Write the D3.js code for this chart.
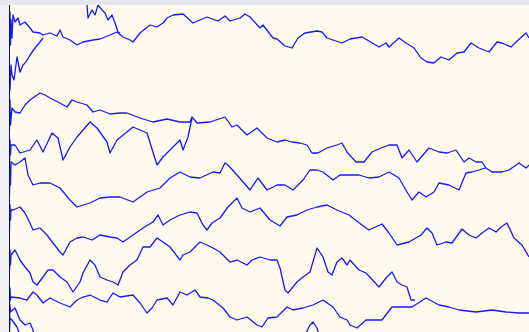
<!DOCTYPE html>
<html>
<head>
<meta charset="utf-8">
<script src="https://cdn.jsdelivr.net/npm/d3@7"></script>
<style>
  html, body { margin: 0; padding: 0; background: #f2f2f6; }
  svg { display: block; }
</style>
</head>
<body>
<svg id="chart" width="529" height="332"></svg>
<script>
// --- Données : chaque série = [pas, valeur] ---
const walkA = [[0,165],[0.5,140],[1,158],[1.5,125],[2,150],[3,132],[4,155],[6,148],[9,152],[11,145],[16,148],[21,142],[24,138],[31,137],[34,135],[41,137],[48,134],[51,140],[54,133],[61,130],[68,125],[74,128],[84,130],[91,131],[101,135],[108,138],[114,133],[121,130],[124,128],[131,137],[141,145],[148,143],[154,147],[158,152],[164,155],[174,156],[184,147],[191,150],[198,153],[209,149],[216,154],[221,149],[231,152],[236,156],[241,153],[251,142],[254,145],[264,132],[268,131],[276,124],[283,122],[289,132],[296,137],[308,139],[313,138],[318,132],[324,130],[333,127],[341,131],[353,133],[360,129],[370,123],[377,127],[380,123],[390,132],[397,127],[405,122],[412,112],[418,108],[425,107],[432,113],[440,110],[448,117],[455,118],[462,127],[470,122],[480,118],[488,128],[493,127],[502,123],[507,128],[517,137],[520,132]];
const walkB = [[75,180],[77,175],[78,165],[79,152],[83,160],[86,155],[89,165],[93,160],[96,157],[99,150],[103,155],[106,147],[109,138],[111,137]];
const walkC = [[0,60],[0.5,100],[1,80],[2,105],[3,95],[5,90],[8,113],[11,98],[14,105],[17,108],[21,115],[26,122],[31,128],[34,132]];
const walkD = [[0,85],[0.5,40],[1,70],[1.5,45],[3,62],[6,58],[11,57],[16,65],[21,70],[31,77],[36,75],[41,72],[49,68],[58,63],[63,70],[68,68],[78,65],[84,58],[91,60],[101,56],[111,57],[118,57],[131,52],[144,48],[158,51],[171,48],[181,48],[183,53],[188,47],[201,48],[216,53],[223,43],[228,45],[238,35],[248,42],[258,32],[268,28],[276,30],[283,28],[291,27],[298,25],[303,17],[309,17],[318,22],[328,25],[333,27],[338,18],[347,8],[355,8],[363,18],[372,22],[380,25],[388,25],[393,12],[400,20],[408,8],[420,22],[430,18],[438,17],[447,20],[455,8],[460,12],[467,8],[473,8],[477,2],[483,-2],[493,-2],[500,0],[510,7],[517,2],[520,5]];
const walkE = [[0,45],[0.5,0],[1,30],[1.5,15],[2,25],[6,25],[11,17],[21,20],[28,30],[34,18],[43,37],[49,32],[54,10],[61,23],[68,33],[81,48],[88,42],[98,28],[101,17],[108,30],[118,38],[124,43],[131,40],[138,37],[148,5],[154,13],[161,20],[171,30],[174,20],[179,33],[183,52]];
const walkF = [[0,15],[0.5,-25],[1,5],[1.5,-15],[2,8],[6,5],[11,8],[16,12],[19,-5],[24,-15],[31,-13],[41,-13],[51,-18],[61,-30],[68,-37],[81,-33],[91,-28],[101,-27],[111,-27],[124,-32],[138,-22],[151,-18],[161,-8],[171,-2],[181,-7],[191,-8],[204,-2],[211,-3],[216,7],[219,5],[228,-5],[241,-20],[249,-8],[258,-20],[268,-15],[276,-15],[284,-20],[294,-10],[301,0],[308,0],[314,-2],[324,-10],[331,-5],[340,-5],[350,-5],[360,-8],[370,-7],[380,-2],[390,-8],[398,-22],[403,-30],[410,-22],[417,-27],[425,-22],[430,-13],[440,-15],[450,-20],[457,-3],[463,-2],[470,0],[476,2]];
const walkG = [[0,-20],[0.5,-60],[1,-35],[1.5,-50],[2,-40],[4,-40],[11,-37],[16,-43],[21,-53],[24,-60],[31,-58],[38,-65],[44,-73],[51,-82],[54,-85],[61,-72],[68,-68],[74,-67],[83,-70],[91,-65],[101,-67],[108,-68],[114,-72],[124,-65],[134,-58],[144,-52],[149,-45],[154,-55],[161,-50],[171,-45],[181,-42],[188,-43],[194,-55],[198,-60],[203,-53],[211,-48],[219,-37],[228,-28],[233,-38],[241,-42],[251,-38],[261,-50],[271,-56],[278,-47],[288,-45],[298,-40],[308,-37],[318,-35],[328,-40],[340,-45],[353,-55],[360,-60],[373,-54],[380,-63],[388,-75],[400,-72],[412,-65],[418,-58],[423,-63],[428,-75],[437,-72],[443,-73],[453,-59],[460,-65],[467,-68],[473,-63],[480,-58],[487,-62],[492,-57],[498,-53],[505,-68],[513,-75],[520,-87]];
const walkH = [[0,-60],[0.5,-100],[1,-80],[1.5,-95],[2,-85],[6,-80],[11,-90],[16,-97],[21,-103],[24,-112],[28,-115],[34,-107],[39,-100],[44,-100],[51,-107],[58,-112],[64,-122],[71,-112],[74,-103],[81,-90],[86,-95],[91,-107],[98,-110],[104,-112],[109,-115],[114,-102],[121,-95],[128,-90],[134,-77],[141,-77],[148,-68],[154,-72],[161,-77],[171,-90],[174,-85],[181,-82],[191,-72],[198,-75],[204,-78],[211,-82],[216,-87],[221,-92],[228,-90],[238,-95],[243,-90],[251,-87],[261,-90],[268,-90],[271,-98],[276,-120],[279,-123],[288,-112],[294,-107],[301,-102],[308,-78],[314,-87],[319,-102],[323,-105],[328,-92],[333,-88],[338,-95],[341,-90],[350,-100],[357,-103],[370,-117],[377,-108],[383,-102],[388,-112],[393,-115],[398,-117],[402,-130],[406,-130]];
const walkI = [[0,-105],[0.5,-135],[1,-118],[1.5,-130],[2,-127],[11,-128],[18,-130],[24,-122],[28,-125],[34,-133],[38,-130],[41,-128],[51,-133],[61,-137],[68,-130],[74,-127],[81,-125],[91,-130],[98,-132],[104,-123],[111,-127],[124,-125],[131,-133],[138,-143],[143,-138],[148,-130],[158,-128],[164,-135],[171,-122],[178,-125],[186,-120],[191,-127],[199,-128],[204,-130],[214,-138],[221,-147],[228,-150],[238,-147],[248,-155],[253,-157],[259,-148],[268,-147],[278,-137],[284,-140],[294,-138],[304,-135],[314,-130],[324,-137],[331,-147],[338,-150],[341,-155],[348,-158],[357,-150],[373,-150],[383,-137],[403,-137],[417,-128],[430,-135],[440,-137],[450,-140],[467,-142],[483,-140],[497,-142],[510,-143],[520,-143]];
const walkJ = [[0,-125],[0.5,-150],[1,-135],[1.5,-142],[6,-138],[11,-150],[16,-155],[21,-153],[24,-160],[27,-170]];
const walkK = [[0,-140],[0.5,-162],[1,-148],[3,-150],[8,-157],[11,-165]];
const walkL = [[296,-165],[301,-155],[304,-152],[308,-158],[311,-168]];

const walks = [walkA, walkB, walkC, walkD, walkE, walkF, walkG, walkH, walkI, walkJ, walkK, walkL];

// --- Mise en page ---
const W = 529, H = 332;
const plot = { left: 9, top: 5, right: 529, bottom: 332 };

const svg = d3.select("#chart");

// bandeau du haut + zone de tracé
svg.append("rect").attr("x", 0).attr("y", 0).attr("width", W).attr("height", plot.top).attr("fill", "#e6e6ef");
svg.append("rect").attr("x", 0).attr("y", plot.top).attr("width", plot.left).attr("height", H - plot.top).attr("fill", "#f1f1f5");
svg.append("rect")
    .attr("x", plot.left).attr("y", plot.top)
    .attr("width", plot.right - plot.left).attr("height", plot.bottom - plot.top)
    .attr("fill", "#fffaee");

svg.append("clipPath").attr("id", "clip")
  .append("rect")
    .attr("x", plot.left).attr("y", plot.top)
    .attr("width", plot.right - plot.left).attr("height", plot.bottom - plot.top);

const x = d3.scaleLinear().domain([0, 520]).range([plot.left, plot.right]);
const y = d3.scaleLinear().domain([-162, 165]).range([plot.bottom, plot.top]);

const line = d3.line()
    .x(d => x(d[0]))
    .y(d => y(d[1]));

svg.append("g")
    .attr("clip-path", "url(#clip)")
  .selectAll("path")
  .data(walks)
  .join("path")
    .attr("d", line)
    .attr("fill", "none")
    .attr("stroke", "#1818ff")
    .attr("stroke-width", 1.3)
    .attr("stroke-linejoin", "round");

// axe vertical gauche
svg.append("line")
    .attr("x1", plot.left + 0.5).attr("x2", plot.left + 0.5)
    .attr("y1", plot.top).attr("y2", plot.bottom)
    .attr("stroke", "#10104a")
    .attr("stroke-width", 1);
</script>
</body>
</html>
